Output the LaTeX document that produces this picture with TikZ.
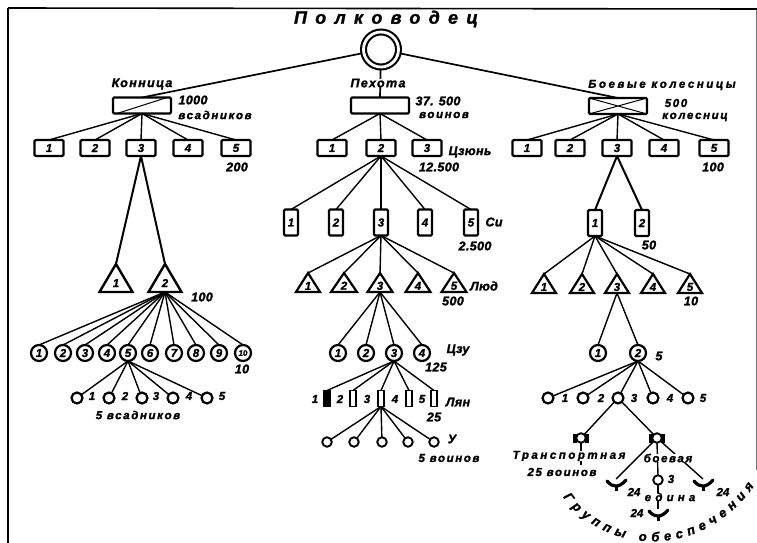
\documentclass[tikz,border=0pt]{standalone}
\usepackage{fontspec}
\setmainfont{Liberation Sans}[BoldItalicFeatures={FakeBold=1.4}]
\newfontfamily\lblA{Liberation Sans}[LetterSpace=3,BoldItalicFeatures={FakeBold=1.6}]
\newfontfamily\lblN{Liberation Sans}[LetterSpace=11,BoldItalicFeatures={FakeBold=1.6}]
\newfontfamily\lblB{Liberation Sans}[LetterSpace=14,BoldItalicFeatures={FakeBold=1.6}]
\newfontfamily\lblW{Liberation Sans}[LetterSpace=22,BoldItalicFeatures={FakeBold=1.6}]
\newfontfamily\lblX{Liberation Sans}[LetterSpace=36,BoldItalicFeatures={FakeBold=1.6}]
\newfontfamily\lblT{Liberation Sans}[LetterSpace=46,BoldItalicFeatures={FakeBold=1.6}]
\usetikzlibrary{shapes.geometric,decorations.text}
\tikzset{
  x=1pt,y=-1pt,
  lab/.style={inner sep=0,font=\lblA\bfseries\itshape\fontsize{12.5}{14}\selectfont},
  labn/.style={inner sep=0,font=\lblN\bfseries\itshape\fontsize{12.5}{14}\selectfont},
  labw/.style={inner sep=0,font=\lblB\bfseries\itshape\fontsize{11.5}{13}\selectfont},
  labww/.style={inner sep=0,font=\lblW\bfseries\itshape\fontsize{11.5}{13}\selectfont},
  labx/.style={inner sep=0,font=\lblX\bfseries\itshape\fontsize{11.5}{13}\selectfont},
  num/.style={font=\bfseries\itshape\fontsize{11.5}{13}\selectfont},
  titlelab/.style={inner sep=0,font=\lblT\bfseries\itshape\fontsize{18}{20}\selectfont},
  conn/.style={line width=1.4pt},
  connb/.style={line width=2pt},
  topbox/.style={draw,line width=2.2pt,rounded corners=1.2pt,inner sep=0,outer sep=0,minimum width=58pt,minimum height=16pt},
  sqbox/.style={num,draw,line width=2.2pt,rounded corners=1.2pt,inner sep=0,outer sep=0,minimum width=29pt,minimum height=16pt},
  tallbox/.style={num,draw,line width=2.2pt,rounded corners=1.2pt,inner sep=0,outer sep=0,minimum width=14pt,minimum height=26pt},
  slim/.style={draw,line width=1.6pt,inner sep=0,outer sep=0,minimum width=5.5pt,minimum height=16pt},
  tri/.style={num,draw,line width=2.2pt,inner sep=0,outer sep=0,isosceles triangle,isosceles triangle stretches,shape border rotate=90,anchor=apex,minimum width=#1,minimum height=19pt},
  tribig/.style={num,draw,line width=2.4pt,inner sep=0,outer sep=0,isosceles triangle,isosceles triangle stretches,shape border rotate=90,anchor=apex,minimum width=33pt,minimum height=28pt},
  crc/.style={num,draw,circle,line width=2.2pt,inner sep=0,outer sep=0,minimum size=16pt},
  dot/.style={draw,circle,line width=2.2pt,inner sep=0,outer sep=0,minimum size=11pt},
  dotx/.style={draw,circle,line width=1.9pt,inner sep=0,outer sep=0,minimum size=9.5pt},
}
\begin{document}
\begin{tikzpicture}
\useasboundingbox (0,0) rectangle (757,543);
\fill[white] (0,0) rectangle (757,543);
% frame
\draw[line width=1.6pt] (8,8) -- (757,9);
\draw[line width=1.8pt] (8,8) -- (8,543);
\draw[line width=.7pt,black!55] (756,10) -- (756,470);
% title
\node[titlelab] (title) at (386,19) {Полководец};
\node[draw,circle,double,double distance=2.8pt,line width=2.1pt,inner sep=0,outer sep=2pt,minimum size=35pt] (chief) at (381,49.5) {};
% top level
\node[topbox] (ca) at (142,105.5) {};
\node[topbox] (in) at (380,105.5) {};
\node[topbox] (ch) at (618,106) {};
\draw[line width=1pt] (ca.south west) ++(4,0) -- ([xshift=-4pt]ca.north east);
\draw[line width=1pt] (ch.south west) -- (ch.north east) (ch.north west) -- (ch.south east);
\draw[line width=1.7pt] (chief) -- (ca.north);
\draw[line width=1.7pt] (chief) -- (ch.north);
\draw[line width=1.7pt] (chief) -- (in.north);
\node[labn,fill=white,inner xsep=1pt] (lKon) at (142,84) {Конница};
\node[labn,fill=white,inner xsep=1pt] (lPeh) at (378,83) {Пехота};
\node[labww] (lBoe) at (662,85) {Боевые колесницы};
\node[lab] (l1000) at (193,100) {1000};
\node[labw] (lVs) at (215,115) {всадников};
\node[lab] (l375) at (438,101) {37. 500};
\node[labw] (lVo) at (444,115) {воинов};
\node[labw] (l500c) at (676,103) {500};
\node[labw] (lKol) at (695,117) {колесниц};
% cavalry
\foreach \n/\x in {1/49,2/95,3/141,4/188,5/236}{
  \node[sqbox] (ca\n) at (\x,148) {\n};
  \draw[conn] (ca.south) -- (ca\n.north);
}
\node[lab] (l200) at (237,167) {200};
\node[tribig] (cat1) at (116,264) {\raisebox{-4pt}{1}};
\node[tribig] (cat2) at (165,264) {\raisebox{-4pt}{2}};
\draw[connb] (ca3.south) -- (cat1.apex);
\draw[connb] (ca3.south) -- (cat2.apex);
\node[lab] (l100) at (202,297) {100};
\foreach \n/\x/\f in {1/39/,2/63/,3/85/,4/107/,5/128/,6/150/,7/174/,8/196/,9/219/,10/243/\footnotesize}{
  \node[crc] (cac\n) at (\x,353) {\f\n};
  \draw[conn] (cat2.lower side) -- (cac\n.north);
}
\node[lab] (l10) at (242,369) {10};
\foreach \n/\x/\lx in {1/77/92,2/109/125,3/142/156,4/173/189,5/207/222}{
  \node[dot] (cad\n) at (\x,398) {};
  \node[num] (cadl\n) at (\lx,396) {\n};
  \draw[conn] (cac5.south) -- (cad\n);
}
\node[labw] (lV5) at (138,415) {5 всадников};
% infantry
\foreach \n/\x in {1/332,2/381,3/427}{
  \node[sqbox] (in\n) at (\x,148) {\n};
  \draw[conn] (in.south) -- (in\n.north);
}
\node[lab] (lCz) at (470,152) {Цзюнь};
\node[lab] (l125) at (439,167) {12.500};
\foreach \n/\x in {1/291,2/336,3/381,4/425,5/471}{
  \node[tallbox] (ins\n) at (\x,222.5) {\n};
  \draw[conn] (in2.south) -- (ins\n.north);
}
\node[lab] (lSi) at (494,222) {Си};
\node[lab] (l25h) at (475,246) {2.500};
\foreach \n/\x/\w in {1/308/24,2/344/26,3/380/25,4/418/25,5/454/25}{
  \node[tri=\w pt] (int\n) at (\x,273) {\raisebox{-3pt}{\n}};
  \draw[conn] (ins3.south) -- (int\n.apex);
}
\node[lab] (lLyu) at (484,286) {Люд};
\node[lab] (l500) at (453,301) {500};
\foreach \n/\x in {1/338,2/366,3/394,4/422}{
  \node[crc] (inc\n) at (\x,353) {\n};
  \draw[conn] (int3.lower side) -- (inc\n.north);
}
\node[lab] (lCzu) at (458,350) {Цзу};
\node[lab] (l125b) at (436,367) {125};
\foreach \n/\x/\lx in {1/327/315,2/353/340,3/381/367,4/409/395,5/434/422}{
  \node[slim] (inr\n) at (\x,398.5) {};
  \node[num] (inrl\n) at (\lx,399) {\n};
  \draw[conn] (inc3.south) -- (inr\n.north);
}
\fill (inr1.south west) rectangle (inr1.north east);
\node[lab] (lLyan) at (458,402) {Лян};
\node[lab] (l25) at (434,417) {25};
\foreach \n/\x in {1/327,2/354,3/382,4/408,5/434}{
  \node[dotx] (ind\n) at (\x,442) {};
  \draw[conn] (inr3.south) -- (ind\n);
}
\node[lab] (lU) at (452,439) {У};
\node[labw] (lV5b) at (449,458) {5 воинов};
% chariots
\foreach \n/\x in {1/527,2/570,3/617,4/664,5/714}{
  \node[sqbox] (ch\n) at (\x,148) {\n};
  \draw[conn] (ch.south) -- (ch\n.north);
}
\node[lab] (l100c) at (713,167) {100};
\foreach \n/\x in {1/595,2/642}{
  \node[tallbox] (chs\n) at (\x,223) {\n};
  \draw[connb] (ch3.south) -- (chs\n.north);
}
\node[lab] (l50) at (649,245) {50};
\foreach \n/\x in {1/544,2/582,3/617,4/653,5/690}{
  \node[tri=24pt] (cht\n) at (\x,274) {\raisebox{-3pt}{\n}};
  \draw[conn] (chs1.south) -- (cht\n.apex);
}
\node[lab] (l10c) at (691,301) {10};
\foreach \n/\x in {1/598,2/638}{
  \node[crc] (chc\n) at (\x,353) {\n};
  \draw[conn] (cht3.lower side) -- (chc\n.north);
}
\node[lab] (l5) at (659,356) {5};
\foreach \n/\x/\lx in {1/548/565,2/583/601,3/618/634,4/653/670,5/688/703}{
  \node[dot] (chd\n) at (\x,398) {};
  \node[num] (chdl\n) at (\lx,398) {\n};
  \draw[conn] (chc2.south) -- (chd\n);
}
% transport and combat carts
\node[dotx] (tra) at (581,438) {};
\node[dotx] (cmb) at (657,438) {};
\foreach \m in {tra,cmb}{
  \fill ([xshift=-3pt,yshift=-4.5pt]\m.west) rectangle ([xshift=1pt,yshift=4.5pt]\m.west);
  \fill ([xshift=-1pt,yshift=-4.5pt]\m.east) rectangle ([xshift=3pt,yshift=4.5pt]\m.east);
}
\draw[conn] (chd3) -- (tra);
\draw[conn] (chd3) -- (cmb);
\draw[line width=1.2pt] (tra.south) -- +(0,22);
\coordinate (g1) at (616,479);
\coordinate (g2) at (703,479);
\coordinate (g3) at (658,509);
\node[dotx] (mid) at (658,480) {};
\draw[conn] (cmb) -- (g1);
\draw[conn] (cmb) -- (g2);
\draw[conn] (cmb.south) -- (mid.north);
\draw[conn] (mid.south) -- (g3);
\foreach \g in {g1,g2,g3}{
  \draw[line width=3.2pt,line cap=round] ([xshift=-9pt,yshift=-2pt]\g) .. controls ([xshift=-3pt,yshift=-9pt]\g) and ([xshift=3pt,yshift=-9pt]\g) .. ([xshift=10pt,yshift=-1pt]\g);
  \draw[line width=3pt] ([yshift=-7pt]\g) -- ([yshift=-12pt]\g);
}
\node[labww,fill=white,inner xsep=1pt] (lTr) at (569,456) {Транспортная};
\node[labw] (l25v) at (562,472) {25 воинов};
\node[labw,fill=white,inner xsep=1pt] (lCmb) at (668,458) {боевая};
\node[num] (l3) at (671,479) {3};
\node[labx,fill=white,inner xsep=1pt,inner ysep=0pt] (lEd) at (670,497) {едина};
\node[num] (l24a) at (634,492) {24};
\node[num] (l24b) at (723,492) {24};
\node[num] (l24c) at (637,513) {24};
% curved caption
\path[decorate,decoration={text along path,text align={fit to path},
  text={|\lblA\bfseries\itshape\fontsize{13}{14}\selectfont|Группы обеспечения}}]
  (563,497) .. controls (605,554) and (700,562) .. (754,486);
\end{tikzpicture}
\end{document}
